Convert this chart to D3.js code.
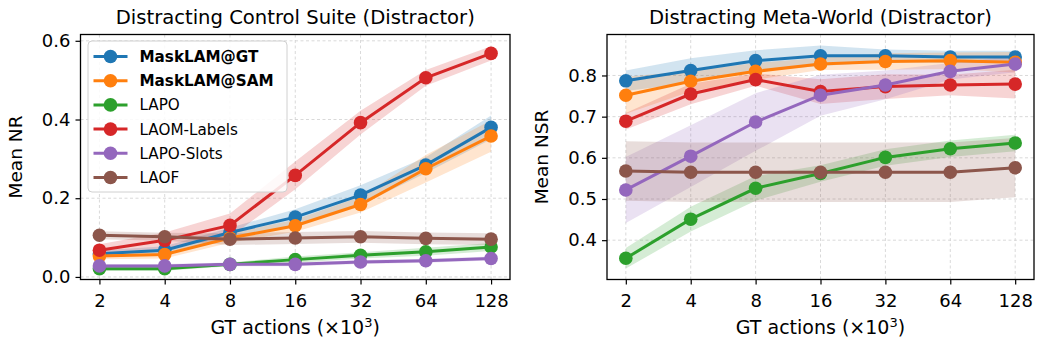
<!DOCTYPE html>
<html>
<head>
<meta charset="utf-8">
<script src="https://cdn.jsdelivr.net/npm/d3@7"></script>
<style>
  body { margin: 0; background: #fff; }
  svg { font-family: "DejaVu Sans", sans-serif; }
</style>
</head>
<body>
<div id="chart"></div>
<script>
// GT actions (x10^3)
const categories = ["2", "4", "8", "16", "32", "64", "128"]
const seriesNames = ["MaskLAM@GT", "MaskLAM@SAM", "LAPO", "LAOM-Labels", "LAPO-Slots", "LAOF"]
const colors = ["#1f77b4", "#ff7f0e", "#2ca02c", "#d62728", "#9467bd", "#8c564b"]

// Distracting Control Suite: means and band half-widths
const dcsGT = [0.059, 0.068, 0.113, 0.152, 0.208, 0.284, 0.380]
const dcsGTsd = [0.008, 0.010, 0.012, 0.020, 0.025, 0.020, 0.030]
const dcsSAM = [0.053, 0.057, 0.099, 0.130, 0.184, 0.275, 0.358]
const dcsSAMsd = [0.008, 0.010, 0.012, 0.015, 0.020, 0.035, 0.040]
const dcsLAPO = [0.021, 0.021, 0.032, 0.044, 0.055, 0.064, 0.076]
const dcsLAPOsd = [0.005, 0.005, 0.005, 0.008, 0.008, 0.010, 0.010]
const dcsLAOM = [0.068, 0.093, 0.131, 0.258, 0.392, 0.506, 0.568]
const dcsLAOMsd = [0.015, 0.020, 0.030, 0.035, 0.030, 0.020, 0.018]
const dcsSlots = [0.028, 0.028, 0.032, 0.032, 0.038, 0.041, 0.047]
const dcsSlotsSd = [0.005, 0.005, 0.005, 0.005, 0.005, 0.005, 0.005]
const dcsLAOF = [0.106, 0.102, 0.096, 0.099, 0.102, 0.098, 0.096]
const dcsLAOFsd = [0.010, 0.010, 0.015, 0.015, 0.015, 0.015, 0.015]

// Distracting Meta-World
const mwGT = [0.787, 0.812, 0.836, 0.848, 0.848, 0.845, 0.845]
const mwGTsd = [0.025, 0.030, 0.025, 0.025, 0.015, 0.015, 0.015]
const mwSAM = [0.752, 0.786, 0.810, 0.828, 0.834, 0.836, 0.832]
const mwSAMsd = [0.045, 0.025, 0.020, 0.015, 0.020, 0.020, 0.025]
const mwLAPO = [0.356, 0.451, 0.526, 0.562, 0.601, 0.622, 0.636]
const mwLAPOsd = [0.025, 0.030, 0.030, 0.020, 0.020, 0.020, 0.020]
const mwLAOM = [0.689, 0.755, 0.790, 0.761, 0.773, 0.777, 0.779]
const mwLAOMsd = [0.020, 0.025, 0.015, 0.030, 0.030, 0.025, 0.035]
const mwSlots = [0.522, 0.604, 0.687, 0.752, 0.777, 0.810, 0.828]
const mwSlotsSd = [0.080, 0.075, 0.070, 0.050, 0.035, 0.020, 0.020]
const mwLAOF = [0.568, 0.565, 0.565, 0.565, 0.565, 0.565, 0.576]
const mwLAOFsd = [0.072, 0.072, 0.072, 0.072, 0.072, 0.072, 0.072]

const dcsTicks = [0.0, 0.2, 0.4, 0.6]
const mwTicks = [0.4, 0.5, 0.6, 0.7, 0.8]

const W = 1038, H = 346
const svg = d3.select("#chart").append("svg").attr("width", W).attr("height", H)

function panel(opts) {
  const { left, right, top, bottom, yDomain, yTicks, means, sds, title, ylabel, legend } = opts
  const g = svg.append("g")
  const x = d3.scalePoint().domain(categories).range([left, right]).padding(0.29)
  const y = d3.scaleLinear().domain(yDomain).range([bottom, top])

  // grid
  g.append("g").selectAll("line.gx").data(categories).enter().append("line")
    .attr("x1", d => x(d)).attr("x2", d => x(d)).attr("y1", top).attr("y2", bottom)
    .attr("stroke", "#cfcfcf").attr("stroke-width", 0.8).attr("stroke-dasharray", "3,2.5")
  g.append("g").selectAll("line.gy").data(yTicks).enter().append("line")
    .attr("x1", left).attr("x2", right).attr("y1", d => y(d)).attr("y2", d => y(d))
    .attr("stroke", "#cfcfcf").attr("stroke-width", 0.8).attr("stroke-dasharray", "3,2.5")

  // bands first, then lines+markers per series
  means.forEach((m, i) => {
    const pts = m.map((v, j) => ({ c: categories[j], v: v, s: sds[i][j] }))
    g.append("path").datum(pts)
      .attr("d", d3.area().x(d => x(d.c)).y0(d => y(d.v - d.s)).y1(d => y(d.v + d.s)))
      .attr("fill", colors[i]).attr("fill-opacity", 0.2).attr("stroke", "none")
  })
  means.forEach((m, i) => {
    const pts = m.map((v, j) => ({ c: categories[j], v: v }))
    g.append("path").datum(pts)
      .attr("d", d3.line().x(d => x(d.c)).y(d => y(d.v)))
      .attr("fill", "none").attr("stroke", colors[i]).attr("stroke-width", 3)
    g.selectAll(null).data(pts).enter().append("circle")
      .attr("cx", d => x(d.c)).attr("cy", d => y(d.v)).attr("r", 6.8)
      .attr("fill", colors[i])
  })

  // frame
  g.append("rect").attr("x", left).attr("y", top).attr("width", right - left).attr("height", bottom - top)
    .attr("fill", "none").attr("stroke", "#000").attr("stroke-width", 1.3)

  // axes
  const xa = g.append("g").attr("transform", `translate(0,${bottom})`)
    .call(d3.axisBottom(x).tickSize(5).tickPadding(5))
  const ya = g.append("g").attr("transform", `translate(${left},0)`)
    .call(d3.axisLeft(y).tickValues(yTicks).tickFormat(d3.format(".1f")).tickSize(5).tickPadding(5))
  ;[xa, ya].forEach(a => {
    a.select(".domain").remove()
    a.selectAll("line").attr("stroke", "#000").attr("stroke-width", 1.2)
    a.selectAll("text").attr("font-size", 18).attr("fill", "#000").attr("font-family", "DejaVu Sans")
  })
  xa.selectAll("text").attr("dy", "0.95em")

  svg.append("text").attr("x", (left + right) / 2).attr("y", 24).attr("text-anchor", "middle")
    .attr("font-size", 19.6).text(title)
  const xl = svg.append("text").attr("x", (left + right) / 2).attr("y", 334).attr("text-anchor", "middle")
    .attr("font-size", 19)
  xl.append("tspan").text("GT actions (×10")
  xl.append("tspan").attr("dy", -7.5).attr("font-size", 13).text("3")
  xl.append("tspan").attr("dy", 7.5).text(")")
  svg.append("text").attr("transform", `translate(${opts.ylabelX},${(top + bottom) / 2}) rotate(-90)`)
    .attr("text-anchor", "middle").attr("font-size", 18.5).text(ylabel)

  if (legend) {
    const lg = g.append("g")
    lg.append("rect").attr("x", left + 7.5).attr("y", top + 6.5).attr("width", 199).attr("height", 151)
      .attr("rx", 4).attr("fill", "#fff").attr("fill-opacity", 0.85)
      .attr("stroke", "#d0d0d0").attr("stroke-width", 1)
    seriesNames.forEach((name, i) => {
      const cy = top + 22 + i * 24.2
      lg.append("line").attr("x1", left + 13).attr("x2", left + 47).attr("y1", cy).attr("y2", cy)
        .attr("stroke", colors[i]).attr("stroke-width", 3)
      lg.append("circle").attr("cx", left + 30).attr("cy", cy).attr("r", 6.8).attr("fill", colors[i])
      lg.append("text").attr("x", left + 59).attr("y", cy).attr("dy", "0.36em")
        .attr("font-size", 15.2).attr("font-weight", i < 2 ? "bold" : "normal").text(name)
    })
  }
}

panel({
  left: 80.5, right: 510, top: 34.5, bottom: 279.5,
  yDomain: [-0.0065, 0.616], yTicks: dcsTicks,
  means: [dcsGT, dcsSAM, dcsLAPO, dcsLAOM, dcsSlots, dcsLAOF],
  sds: [dcsGTsd, dcsSAMsd, dcsLAPOsd, dcsLAOMsd, dcsSlotsSd, dcsLAOFsd],
  title: "Distracting Control Suite (Distractor)", ylabel: "Mean NR", ylabelX: 22, legend: true
})
panel({
  left: 607, right: 1034, top: 34.5, bottom: 279.5,
  yDomain: [0.3045, 0.8995], yTicks: mwTicks,
  means: [mwGT, mwSAM, mwLAPO, mwLAOM, mwSlots, mwLAOF],
  sds: [mwGTsd, mwSAMsd, mwLAPOsd, mwLAOMsd, mwSlotsSd, mwLAOFsd],
  title: "Distracting Meta-World (Distractor)", ylabel: "Mean NSR", ylabelX: 548, legend: false
})
</script>
</body>
</html>
